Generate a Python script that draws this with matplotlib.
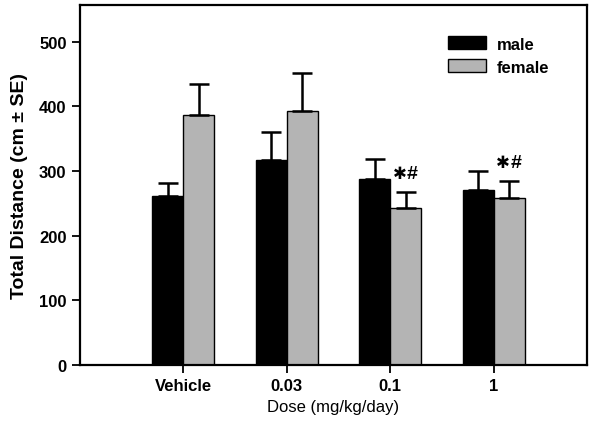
import numpy as np
import matplotlib
matplotlib.use("Agg")
import matplotlib.pyplot as plt

plt.rcParams['font.family'] = ['Liberation Sans', 'DejaVu Sans']

doses = ["Vehicle", "0.03", "0.1", "1"]
male = [261, 317, 287, 270]
male_se = [20, 43, 32, 30]
female = [386, 393, 243, 259]
female_se = [49, 59, 24, 25]
marked = [False, False, True, True]

x = np.arange(1, len(doses) + 1)
w = 0.3

fig = plt.figure(figsize=(6, 4.27), dpi=100)
ax = fig.add_axes([0.133, 0.143, 0.845, 0.843])

ax.bar(x - w / 2, male, w, color="black", edgecolor="black", linewidth=1, label="male")
ax.bar(x + w / 2, female, w, color="#b4b4b4", edgecolor="black", linewidth=1, label="female")
ax.errorbar(x - w / 2, male, yerr=[np.zeros(len(male)), male_se], fmt="none",
            ecolor="black", elinewidth=1.8, capsize=7, capthick=1.8)
ax.errorbar(x + w / 2, female, yerr=[np.zeros(len(female)), female_se], fmt="none",
            ecolor="black", elinewidth=1.8, capsize=7, capthick=1.8)

# significance marks over the female bars: heavy asterisk + hash
for i in range(len(doses)):
    if marked[i]:
        yy = female[i] + female_se[i] + 30
        ax.annotate("\u2731", (x[i] + w / 2, yy), xytext=(0.5, 0), textcoords="offset points",
                    ha="right", va="center", fontsize=12)
        ax.annotate("#", (x[i] + w / 2, yy), xytext=(1, 0), textcoords="offset points",
                    ha="left", va="center", fontsize=14, fontweight="bold")

ax.set_xlim(0, 4.9)
ax.set_ylim(0, 557)
ax.set_xticks(x)
ax.set_xticklabels(doses, fontweight="bold", fontsize=12)
ax.set_yticks([0, 100, 200, 300, 400, 500])
ax.tick_params(axis="y", labelsize=12, direction="out", length=6, width=1.3)
ax.tick_params(axis="x", direction="out", length=6, width=1.3)
for lab in ax.get_yticklabels():
    lab.set_fontweight("bold")
for s in ax.spines.values():
    s.set_linewidth(1.6)

ax.set_xlabel("Dose (mg/kg/day)", fontsize=12, labelpad=4)
ax.set_ylabel("Total Distance (cm \u00b1 SE)", fontsize=14, fontweight="bold", labelpad=8)

leg = ax.legend(loc="upper right", bbox_to_anchor=(0.955, 0.955), frameon=False,
                prop={"weight": "bold", "size": 12}, handlelength=2.3, handleheight=0.85,
                handletextpad=0.6, labelspacing=0.45)

fig.savefig("out.png", dpi=100)
